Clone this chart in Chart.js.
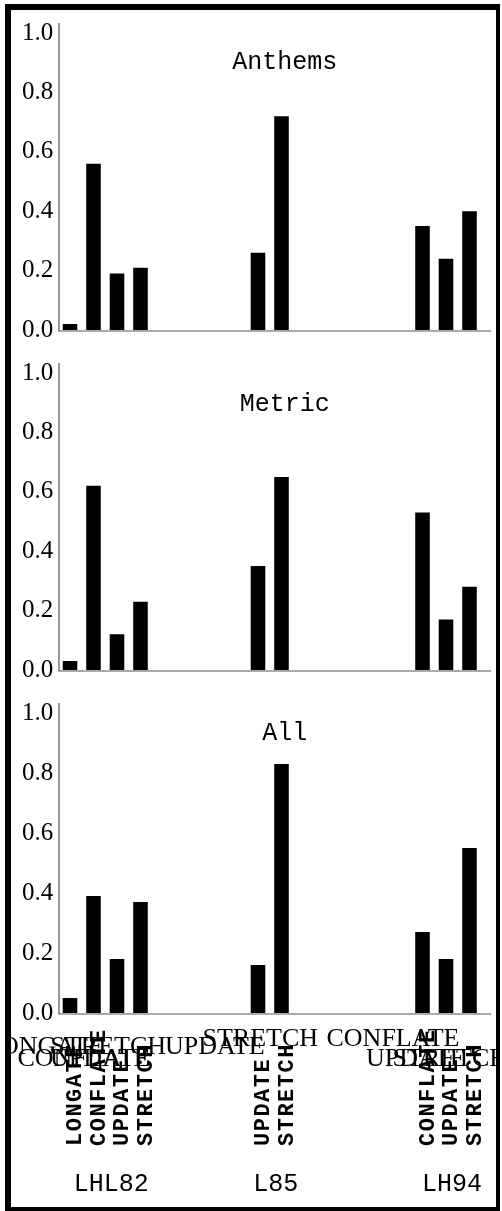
<!DOCTYPE html>
<html>
<head>
<meta charset="utf-8">
<script src="https://cdn.jsdelivr.net/npm/chart.js@4.4.0/dist/chart.umd.min.js"></script>
<style>
  body { margin: 0; background: #fff; }
  #frame {
    position: absolute; left: 5px; top: 4px; width: 495px; height: 1207px;
    box-sizing: border-box; border-style: solid; border-color: #000;
    border-width: 6px 4px 4px 6px; overflow: hidden; background: #fff;
  }
  #frame canvas { position: absolute; left: 0; }
</style>
</head>
<body>
<div id="frame">
  <canvas id="anthems-chart" width="485" height="340" style="top:0px"></canvas>
  <canvas id="metric-chart" width="485" height="340" style="top:340px"></canvas>
  <canvas id="all-chart" width="485" height="517" style="top:680px"></canvas>
</div>
<script>
// Studies and the strategies measured in each
const groupNames = ['LHL82', 'L85', 'LH94'];
const groupStrategies = [
    ['LONGATE', 'CONFLATE', 'UPDATE', 'STRETCH'],
    ['UPDATE', 'STRETCH'],
    ['CONFLATE', 'UPDATE', 'STRETCH']
];

// Proportions per panel, one list per study
const anthemsValues = [[0.02, 0.56, 0.19, 0.21], [0.26, 0.72], [0.35, 0.24, 0.40]];
const metricValues = [[0.03, 0.62, 0.12, 0.23], [0.35, 0.65], [0.53, 0.17, 0.28]];
const allValues = [[0.05, 0.39, 0.18, 0.37], [0.16, 0.83], [0.27, 0.18, 0.55]];

const yTicks = [0, 0.2, 0.4, 0.6, 0.8, 1.0];

// empty slots left in front of each study on the x axis
const gapBefore = [0, 4, 5];

// build the slot list used by the category axis
const slotLabels = [];
const slotGroup = [];
groupStrategies.forEach((list, g) => {
    for (let i = 0; i < gapBefore[g]; i++) { slotLabels.push(''); slotGroup.push(-1); }
    list.forEach(name => { slotLabels.push(name); slotGroup.push(g); });
});

function toSlots(values) {
    const out = [];
    values.forEach((list, g) => {
        for (let i = 0; i < gapBefore[g]; i++) out.push(null);
        list.forEach(v => out.push(v));
    });
    return out;
}

// the flat serif labels under the bottom panel: shift from bar centre, row below axis
const flatShift = [-86, -76, -67, -90, -93, -79, -96, -80, -77];
const flatRow = [41, 53, 53, 41, 41, 33, 33, 53, 53];

const decor = {
    id: 'decor',
    afterDraw(chart, args, opts) {
        const { ctx, chartArea: a } = chart;
        ctx.save();

        // axis lines
        ctx.strokeStyle = '#555';
        ctx.lineWidth = 1.2;
        ctx.beginPath();
        ctx.moveTo(a.left + 0.75, a.top - 10);
        ctx.lineTo(a.left + 0.75, a.bottom + 1);
        ctx.moveTo(a.left, a.bottom + 1);
        ctx.lineTo(a.right + 10, a.bottom + 1);
        ctx.stroke();

        // panel title
        ctx.fillStyle = '#000';
        ctx.font = '25px "Liberation Mono"';
        ctx.textAlign = 'center';
        ctx.textBaseline = 'middle';
        ctx.fillText(opts.title, (a.left + a.right) / 2 + 15, a.top + opts.titleOffset);

        if (opts.labels) {
            const xs = chart.scales.x;
            const used = [];
            slotLabels.forEach((name, i) => { if (name) used.push(i); });

            // horizontal serif names
            ctx.font = '26px "Liberation Serif"';
            ctx.textAlign = 'left';
            ctx.textBaseline = 'alphabetic';
            used.forEach((i, k) => {
                const cx = xs.getPixelForValue(i);
                ctx.fillText(slotLabels[i], cx + flatShift[k], a.bottom + flatRow[k]);
            });

            // vertical names, one per bar
            ctx.font = 'bold 22px "Liberation Mono"';
            ctx.letterSpacing = '1.5px';
            ctx.textBaseline = 'middle';
            used.forEach(i => {
                const cx = xs.getPixelForValue(i);
                ctx.save();
                ctx.translate(cx + 5.5, a.bottom + 133);
                ctx.rotate(-Math.PI / 2);
                ctx.fillText(slotLabels[i], 0, 0);
                ctx.restore();
            });
            ctx.letterSpacing = '0px';

            // study names
            ctx.font = '25px "Liberation Mono"';
            ctx.textAlign = 'center';
            ctx.textBaseline = 'alphabetic';
            groupNames.forEach((name, g) => {
                const idx = used.filter(i => slotGroup[i] === g);
                const mid = (xs.getPixelForValue(idx[0]) + xs.getPixelForValue(idx[idx.length - 1])) / 2;
                ctx.fillText(name, mid + 6, a.bottom + 178);
            });
        }
        ctx.restore();
    }
};

function makePanel(id, title, values, titleOffset, labels) {
    return new Chart(document.getElementById(id), {
        type: 'bar',
        data: {
            labels: slotLabels,
            datasets: [{
                data: toSlots(values),
                backgroundColor: '#000',
                barPercentage: 0.62,
                categoryPercentage: 1
            }]
        },
        options: {
            responsive: false,
            animation: false,
            devicePixelRatio: 1,
            layout: { padding: { top: 23, right: 14.75, bottom: labels ? 194 : 17, left: 0 } },
            plugins: {
                legend: { display: false },
                tooltip: { enabled: false },
                decor: { title: title, titleOffset: titleOffset, labels: labels }
            },
            scales: {
                x: { display: false },
                y: {
                    min: 0,
                    max: 1,
                    afterBuildTicks: s => { s.ticks = yTicks.map(v => ({ value: v })); },
                    afterFit: s => { s.width = 47.25; },
                    ticks: {
                        callback: v => v.toFixed(1),
                        color: '#000',
                        padding: 5,
                        font: { family: 'Liberation Serif', size: 25 }
                    },
                    grid: { display: false, drawTicks: false },
                    border: { display: false }
                }
            }
        },
        plugins: [decor]
    });
}

makePanel('anthems-chart', 'Anthems', anthemsValues, 29, false);
makePanel('metric-chart', 'Metric', metricValues, 31, false);
makePanel('all-chart', 'All', allValues, 20, true);
</script>
</body>
</html>
